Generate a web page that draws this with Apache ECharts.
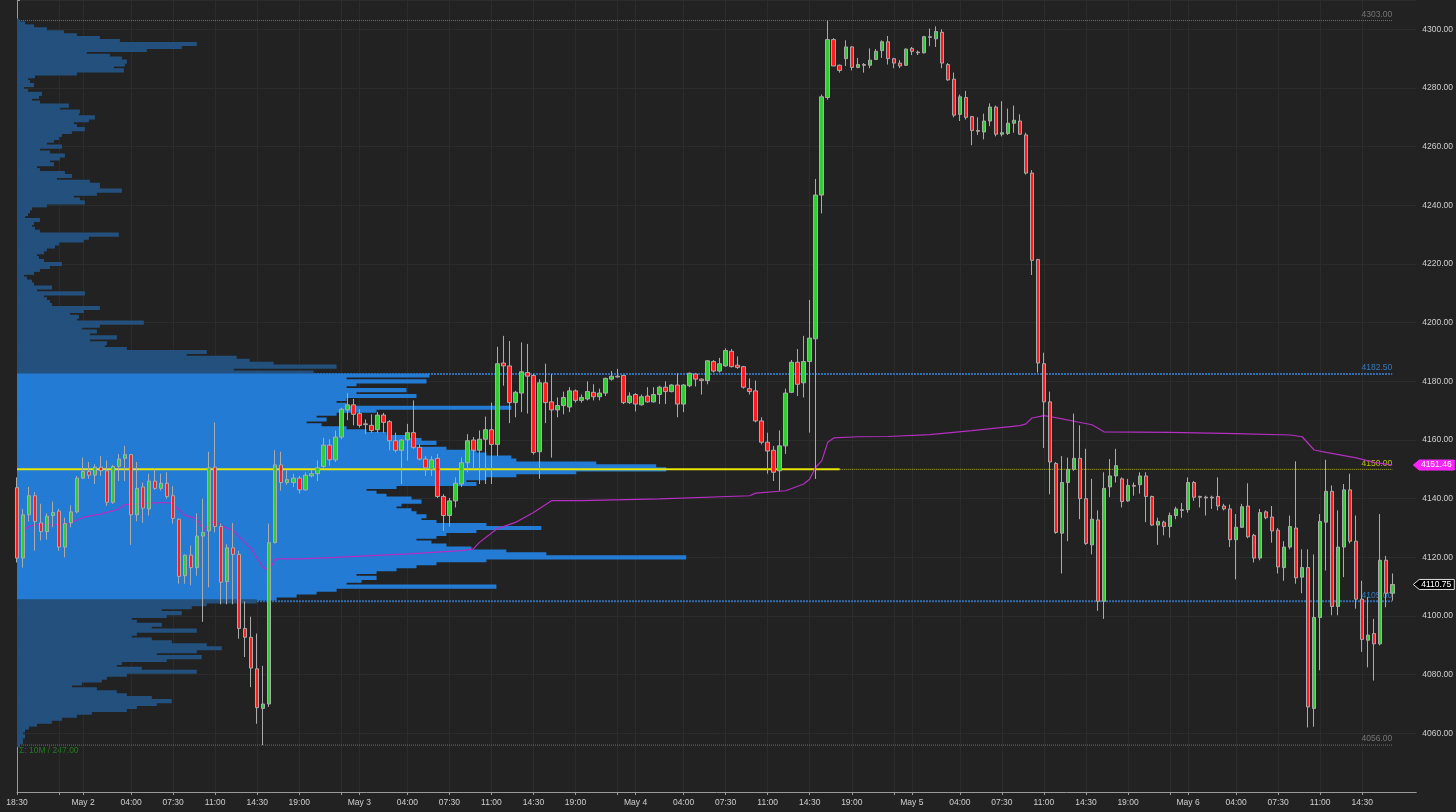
<!DOCTYPE html>
<html><head><meta charset="utf-8">
<script src="https://cdn.jsdelivr.net/npm/echarts@6/dist/echarts.min.js"></script>
<style>html,body{margin:0;padding:0;background:#222222;}#c{width:1456px;height:812px;}</style>
</head><body><div id="c"></div>
<script>
// 30-minute candles: [open, close, low, high]
const candles = [
[4143.75,4119.75,4118.25,4147.25],[4119.75,4134.5,4116.5,4136.5],[4134.5,4141.0,4132.25,4144.0],[4141.0,4132.25,4122.25,4142.25],[4131.75,4128.75,4125.75,4138.25],
[4128.75,4134.0,4126.0,4135.0],[4134.25,4135.25,4130.25,4139.0],[4135.75,4123.5,4122.25,4136.5],[4123.5,4131.5,4120.0,4133.5],[4131.75,4135.5,4130.25,4137.75],
[4135.5,4147.0,4135.0,4147.75],[4147.0,4149.25,4146.75,4154.0],[4149.25,4148.0,4146.75,4152.5],[4148.0,4150.75,4145.0,4151.75],[4150.75,4149.5,4147.75,4154.5],
[4149.5,4138.75,4137.5,4153.0],[4138.75,4151.0,4138.25,4151.5],[4151.0,4153.5,4146.0,4155.25],[4153.75,4155.0,4146.0,4158.0],[4155.0,4134.5,4124.25,4155.25],
[4134.5,4143.5,4132.25,4152.5],[4144.0,4136.75,4131.75,4145.5],[4136.5,4146.0,4134.25,4148.5],[4146.0,4143.5,4143.0,4150.0],[4143.5,4145.25,4142.75,4148.5],
[4145.25,4140.75,4140.0,4149.0],[4141.0,4133.25,4131.5,4144.25],[4133.0,4113.5,4111.0,4133.25],[4113.75,4120.75,4111.0,4121.0],[4120.75,4116.5,4110.5,4124.0],
[4116.5,4127.25,4113.75,4135.0],[4127.25,4128.5,4098.0,4140.0],[4129.0,4150.5,4109.75,4156.0],[4150.75,4130.5,4128.5,4166.0],[4130.5,4111.5,4104.0,4131.5],
[4111.75,4123.25,4104.0,4124.5],[4123.25,4121.0,4104.0,4131.75],[4121.0,4095.75,4092.25,4122.25],[4095.75,4092.75,4086.0,4105.0],[4092.75,4082.25,4075.75,4099.75],
[4082.0,4068.75,4063.25,4094.0],[4068.5,4070.0,4056.0,4083.0],[4070.0,4125.0,4069.0,4131.5],[4125.0,4151.5,4124.75,4156.5],[4151.5,4145.5,4142.75,4156.0],
[4145.5,4146.5,4144.75,4149.75],[4145.5,4147.0,4144.0,4148.5],[4147.0,4143.0,4141.75,4147.75],[4143.0,4148.0,4142.75,4149.0],[4147.75,4148.5,4147.25,4149.75],
[4148.5,4150.5,4146.0,4153.0],[4151.0,4158.25,4150.5,4160.75],[4158.25,4153.25,4151.25,4160.25],[4153.25,4161.0,4152.5,4163.25],[4161.0,4170.5,4160.25,4171.0],
[4170.25,4172.0,4166.75,4176.0],[4172.0,4168.75,4165.0,4174.0],[4169.0,4165.0,4164.25,4170.5],[4165.5,4165.25,4162.0,4167.0],[4165.0,4163.25,4162.5,4168.75],
[4163.5,4168.5,4162.5,4169.5],[4168.5,4166.0,4162.5,4169.25],[4166.25,4159.75,4156.5,4166.75],[4159.75,4156.5,4155.75,4162.5],[4156.5,4160.0,4145.0,4160.25],
[4160.0,4162.5,4153.0,4165.5],[4162.5,4157.5,4157.0,4173.5],[4157.5,4153.5,4153.0,4158.5],[4153.5,4150.5,4147.75,4154.5],[4150.0,4153.25,4147.75,4154.5],
[4153.75,4140.75,4140.25,4155.25],[4140.75,4134.25,4129.0,4141.5],[4134.25,4139.25,4130.5,4140.25],[4139.25,4145.25,4137.0,4147.25],[4145.0,4152.25,4144.0,4154.0],
[4152.25,4159.75,4149.0,4162.0],[4160.0,4156.5,4150.0,4161.0],[4156.5,4160.25,4145.0,4163.25],[4160.25,4163.5,4145.0,4168.0],[4163.5,4158.5,4145.0,4172.75],
[4158.5,4186.0,4154.5,4191.75],[4186.25,4185.25,4178.5,4195.5],[4185.25,4172.75,4165.75,4193.75],[4172.75,4176.25,4167.75,4176.75],[4176.0,4183.25,4169.5,4193.25],
[4183.0,4181.75,4169.0,4192.75],[4182.0,4155.75,4155.0,4182.5],[4156.0,4179.5,4146.75,4180.75],[4179.5,4172.75,4165.75,4186.0],[4173.0,4170.25,4154.0,4182.5],
[4170.25,4171.75,4167.75,4174.5],[4171.75,4174.5,4168.75,4176.5],[4171.25,4176.75,4169.5,4178.0],[4176.75,4173.5,4172.75,4177.25],[4173.5,4174.5,4172.75,4175.5],
[4174.0,4176.5,4173.5,4180.0],[4176.25,4174.75,4173.5,4179.0],[4174.75,4176.0,4173.5,4177.5],[4176.0,4181.0,4175.0,4181.25],[4180.75,4181.75,4180.25,4183.5],
[4181.75,4181.5,4181.25,4184.25],[4182.0,4172.75,4172.25,4182.0],[4172.75,4175.0,4172.25,4176.25],[4175.5,4172.25,4169.75,4176.0],[4172.0,4174.75,4171.75,4175.5],
[4175.0,4173.0,4172.75,4178.0],[4173.0,4175.5,4172.75,4178.0],[4175.5,4178.0,4172.25,4178.5],[4178.0,4176.5,4172.25,4180.0],[4176.5,4178.75,4176.25,4179.0],
[4178.75,4172.25,4167.75,4182.75],[4172.25,4178.75,4169.5,4179.0],[4178.5,4182.75,4178.0,4183.0],[4182.5,4180.75,4178.25,4182.75],[4180.75,4180.25,4175.5,4181.0],
[4180.25,4187.0,4179.0,4187.25],[4186.75,4183.5,4183.0,4187.25],[4183.5,4186.0,4183.0,4188.0],[4185.25,4190.5,4185.0,4191.25],[4190.25,4185.0,4184.75,4191.0],
[4185.5,4184.75,4184.25,4188.5],[4185.0,4178.0,4177.5,4185.25],[4177.5,4176.5,4175.5,4181.0],[4176.75,4166.5,4166.0,4180.25],[4166.5,4159.25,4158.5,4167.75],
[4159.25,4156.25,4148.5,4162.5],[4156.5,4149.0,4146.0,4158.0],[4149.5,4158.0,4142.75,4163.25],[4158.0,4176.0,4155.25,4177.5],[4176.25,4186.5,4176.0,4187.25],
[4186.5,4179.0,4175.0,4191.0],[4179.5,4186.75,4174.5,4195.5],[4186.75,4194.75,4162.5,4207.75],[4194.5,4243.5,4146.75,4249.0],[4243.5,4277.0,4237.25,4277.75],
[4276.75,4296.5,4276.0,4303.0],[4296.5,4287.5,4287.5,4297.0],[4287.75,4286.0,4285.25,4288.0],[4290.0,4294.0,4287.5,4296.25],[4294.0,4287.0,4286.0,4294.25],
[4287.0,4288.0,4286.75,4290.25],[4288.0,4287.75,4285.25,4288.5],[4287.75,4289.5,4286.75,4293.5],[4289.75,4292.5,4289.5,4293.25],[4292.75,4295.75,4290.25,4296.25],
[4295.75,4290.0,4288.0,4297.75],[4290.0,4288.5,4286.75,4290.25],[4288.5,4287.5,4286.75,4289.5],[4287.75,4293.25,4287.5,4293.5],[4293.5,4292.5,4291.25,4294.0],
[4292.25,4292.0,4291.25,4292.75],[4292.0,4297.5,4291.75,4297.75],[4297.5,4297.25,4294.25,4300.25],[4296.75,4299.25,4294.0,4301.0],[4299.0,4288.5,4286.75,4300.0],
[4288.0,4282.75,4282.5,4288.5],[4283.0,4270.75,4270.0,4285.25],[4271.0,4277.0,4268.75,4277.75],[4276.75,4270.0,4269.25,4279.0],[4270.25,4265.5,4260.5,4270.5],
[4265.5,4265.25,4264.0,4270.0],[4265.0,4268.75,4262.5,4271.25],[4268.75,4273.5,4267.0,4274.75],[4273.5,4264.25,4263.5,4274.0],[4264.25,4264.75,4263.5,4275.5],
[4264.5,4268.0,4264.0,4273.0],[4268.0,4269.0,4264.75,4274.0],[4268.75,4264.25,4264.0,4271.0],[4264.0,4251.0,4250.5,4264.75],[4251.0,4221.25,4216.25,4252.0],
[4221.5,4186.25,4183.0,4221.75],[4186.0,4173.0,4157.25,4189.75],[4173.0,4152.5,4141.5,4176.5],[4152.0,4128.5,4128.0,4152.5],[4128.25,4145.5,4114.5,4154.5],
[4145.5,4150.0,4125.5,4154.0],[4150.0,4153.75,4149.5,4169.0],[4153.75,4140.0,4133.0,4165.0],[4140.0,4124.75,4124.25,4157.0],[4124.25,4133.0,4121.0,4146.75],
[4132.75,4105.0,4101.75,4136.0],[4105.0,4143.5,4099.0,4149.0],[4144.0,4147.75,4140.5,4153.5],[4147.75,4151.25,4145.5,4157.0],[4146.75,4139.0,4137.0,4147.25],
[4139.25,4144.5,4139.0,4146.75],[4144.5,4144.25,4141.0,4145.5],[4144.75,4147.75,4141.75,4149.0],[4147.75,4140.75,4132.0,4149.0],[4140.75,4131.0,4130.75,4141.0],
[4131.0,4132.25,4124.25,4133.5],[4132.0,4130.5,4127.5,4132.5],[4130.5,4134.25,4126.75,4135.25],[4134.25,4136.5,4133.0,4137.25],[4136.0,4136.25,4133.5,4138.5],
[4136.25,4145.5,4135.25,4147.25],[4145.5,4140.5,4139.25,4146.0],[4140.75,4140.5,4137.0,4141.0],[4140.5,4140.25,4134.25,4141.0],[4140.5,4140.25,4136.5,4141.0],
[4140.75,4137.5,4136.0,4147.25],[4137.5,4136.5,4136.0,4138.25],[4136.5,4126.0,4123.5,4138.0],[4126.0,4130.25,4112.5,4134.75],[4130.25,4137.25,4130.0,4138.25],
[4137.5,4127.0,4126.5,4145.25],[4127.5,4119.75,4118.25,4128.0],[4119.75,4135.25,4119.0,4136.5],[4135.5,4133.5,4133.0,4136.0],[4133.75,4129.0,4125.0,4137.5],
[4129.25,4116.75,4114.5,4130.0],[4116.5,4123.5,4112.0,4125.5],[4123.5,4130.5,4122.75,4134.25],[4130.0,4113.0,4111.0,4152.75],[4113.25,4116.5,4107.75,4122.75],
[4116.5,4069.0,4062.0,4122.75],[4068.5,4099.5,4062.25,4121.0],[4099.5,4132.25,4081.5,4134.75],[4132.0,4142.5,4115.5,4153.25],[4142.5,4103.25,4100.25,4144.5],
[4103.25,4123.5,4100.25,4136.0],[4123.5,4143.0,4113.25,4145.0],[4143.0,4125.5,4124.75,4148.5],[4125.5,4105.75,4102.5,4134.25],[4105.75,4092.0,4087.75,4112.0],
[4091.75,4093.5,4082.5,4106.5],[4094.0,4090.5,4078.0,4099.0],[4090.5,4119.0,4090.0,4134.75],[4119.0,4107.75,4103.0,4120.5],[4107.75,4110.75,4105.25,4114.5]
];

// VWAP readings: [candle index, price]
const vwapPoints = [
[1,4128.9],[2,4130.6],[3,4131.1],[8,4131.1],[9,4131.9],[11,4133.6],[14,4134.8],[17,4136.5],[18,4138.0],[22,4138.5],
[25,4138.7],[26,4138.2],[28,4134.2],[30,4133.1],[31,4129.1],[32,4131.4],[33,4132.5],[34,4130.8],[36,4129.1],[39,4122.9],
[41,4116.6],[42,4115.5],[43,4119.5],[47,4119.5],[53,4120.0],[65,4121.2],[74,4122.3],[76,4122.9],[77,4125.1],[80,4129.8],
[83,4131.9],[86,4135.3],[89,4139.3],[94,4139.3],[107,4139.9],[122,4141.0],[123,4141.9],[128,4142.7],[131,4145.0],[132,4146.7],
[133,4150.7],[134,4152.9],[135,4159.2],[136,4160.7],[140,4161.1],[145,4161.2],[152,4161.8],[159,4163.2],[167,4164.9],[168,4165.5],
[169,4167.5],[171,4168.3],[172,4168.0],[174,4167.2],[176,4166.4],[179,4165.2],[181,4162.8],[192,4162.6],[203,4162.2],[212,4161.7],
[214,4161.1],[216,4156.6],[218,4155.8],[223,4153.9],[226,4152.4],[229,4151.46]
];

// Volume profile: one value per 1-point price level, from profileTop downwards (hundreds of contracts)
const profileTop = 4303;
const profileVolumes = [
2,8,17,30,47,60,83,103,180,165, 130,70,93,105,110,108,97,107,60,18,
11,13,17,7,11,25,22,15,23,52, 43,63,62,78,72,57,60,68,55,45,
42,37,30,45,23,33,48,43,33,37, 20,23,48,55,40,73,83,83,105,80,
57,63,68,30,15,13,11,8,23,17, 15,18,23,102,72,67,42,38,30,27,
20,22,27,45,33,23,17,7,10,15, 17,35,20,68,27,30,33,35,83,67,
53,62,60,127,83,65,80,73,100,73, 90,88,110,190,170,220,233,257,320,217,
297,
413,330,410,340,330,390,340,400,330,320, 330,495,360,320,300,310,290,305,330,350,
370,390,405,420,400,430,460,470,495,500, 580,640,650,560,500,470,450,460,380,350,
360,370,395,405,385,380,395,400,410,405, 420,470,525,460,430,420,400,415,430,455,
490,530,670,470,420,400,380,360,340,360, 345,330,480,320,300,280,260,240,
190,175,145,165,150,115,120,145,135,180, 120,115,135,155,190,205,180,140,185,150,
105,100,125,180,110,90,85,65,55,80, 100,110,135,155,140,120,110,75,60,45,
35,20,12,8,6,8,6,6,3
];

const vaHigh = 4182.5, vaLow = 4105, pocPrice = 4150;
const rangeHigh = 4303, rangeLow = 4056;
const lastPrice = 4110.75, vwapLast = 4151.46;
const totalText = 'Σ: 10M / 247.00';

// x ticks: candle index and label ('' = tick without label)
const xTickIndex = [0,7,11,19,26,33,40,47,54,57,65,72,79,86,93,100,103,111,118,125,132,139,146,149,157,164,171,178,185,192,195,203,210,217,224];
const xTickLabel = ['18:30','','May 2','04:00','07:30','11:00','14:30','19:00','','May 3','04:00','07:30','11:00','14:30','19:00','','May 4','04:00','07:30','11:00','14:30','19:00','','May 5','04:00','07:30','11:00','14:30','19:00','','May 6','04:00','07:30','11:00','14:30'];
const slotCount = 234; // candle slots incl. empty right margin
const yMin = 4040, yMax = 4310, yStep = 20;
const lastIdx = candles.length - 1;
const pocSolidEnd = 137;

const categories = Array.from({length: slotCount}, (_, i) => String(i));
const tickSet = new Set(xTickIndex);
const tickLabelMap = {};
xTickIndex.forEach((ix, k) => tickLabelMap[ix] = xTickLabel[k]);

const FONT = 'Liberation Sans, Arial, sans-serif';

function levelLine(v, color, width, type, from, to, z) {
  return {type: 'line', data: [[from, v], [to, v]], symbol: 'none', silent: true, z: z,
    lineStyle: {color: color, width: width, type: type}, animation: false};
}
function levelLabel(v, color, z) {
  return {type: 'scatter', data: [[lastIdx, v]], symbolSize: 1, z: z, silent: true,
    itemStyle: {color: 'rgba(0,0,0,0)'},
    label: {show: true, position: 'top', align: 'right', distance: 1, formatter: v.toFixed(2),
      color: color, fontSize: 8.5, fontFamily: FONT}, animation: false};
}

const chart = echarts.init(document.getElementById('c'), null, {renderer: 'canvas'});
chart.setOption({
  backgroundColor: '#222222',
  animation: false,
  grid: {left: 17, right: 38, top: -1, bottom: 20, show: false},
  xAxis: [{
    type: 'category', data: categories, boundaryGap: false,
    axisLine: {show: true, lineStyle: {color: '#9a9a9a', width: 1}},
    axisTick: {show: true, interval: (i) => tickSet.has(i), length: 3, lineStyle: {color: '#9a9a9a'}},
    axisLabel: {show: true, interval: (i) => tickSet.has(i), formatter: (v, i) => tickLabelMap[i] || '',
      color: '#cfcfcf', fontSize: 8.5, fontFamily: FONT, margin: 6},
    splitLine: {show: true, interval: (i) => tickSet.has(i), lineStyle: {color: '#2c2c2c', width: 1}}
  }, {
    type: 'value', show: false, min: 0, max: 1401
  }],
  yAxis: {
    type: 'value', position: 'right', min: yMin, max: yMax, interval: yStep, scale: true,
    axisLine: {show: true, lineStyle: {color: '#9a9a9a'}},
    axisTick: {show: true, length: 3, lineStyle: {color: '#9a9a9a'}},
    axisLabel: {color: '#cfcfcf', fontSize: 8.5, fontFamily: FONT, margin: 6,
      formatter: (v) => (v % 20 === 0 && v > yMin) ? v.toFixed(2) : ''},
    splitLine: {show: true, lineStyle: {color: '#2c2c2c', width: 1}}
  },
  graphic: [{
    type: 'text', left: 19, top: 746, silent: true,
    style: {text: totalText, fill: '#1f7a1f', font: '8.5px ' + FONT}
  }],
  series: [
    levelLine(rangeHigh, '#6e6e6e', 1, 'dotted', 0, lastIdx, 1),
    levelLine(rangeLow, '#6e6e6e', 1, 'dotted', 0, lastIdx, 1),
    levelLine(vaHigh, '#2f6db0', 2, [2, 1], 0, lastIdx, 1),
    levelLine(vaLow, '#2f6db0', 2, [2, 1], 0, lastIdx, 1),
    {
      type: 'custom', xAxisIndex: 1, yAxisIndex: 0, z: 2, silent: true,
      data: profileVolumes.map((v, k) => [v, profileTop - k]),
      encode: {x: 0, y: 1},
      renderItem: function (params, api) {
        const vol = api.value(0), p = api.value(1);
        const a = api.coord([0, p + 0.5]);
        const b = api.coord([vol, p - 0.5]);
        const inVA = p > vaLow && p <= vaHigh;
        const fill = inVA ? '#237bd4' : '#23507d';
        // rows slightly overlap so that no seams appear between adjacent price levels
        return {type: 'rect', shape: {x: a[0], y: a[1] - 0.6, width: b[0] - a[0], height: b[1] - a[1] + 1.2},
          style: {fill: fill}};
      }
    },
    levelLine(pocPrice, '#e6e600', 2, 'solid', 0, pocSolidEnd, 3),
    levelLine(pocPrice, '#b8b800', 1, 'dotted', pocSolidEnd, lastIdx, 3),
    levelLabel(rangeHigh, '#8a8a8a', 3),
    levelLabel(rangeLow, '#8a8a8a', 3),
    levelLabel(vaHigh, '#3d8fe0', 3),
    levelLabel(vaLow, '#3d8fe0', 3),
    levelLabel(pocPrice, '#e0e000', 3),
    {
      type: 'line', data: vwapPoints, symbol: 'none', z: 4, silent: true,
      lineStyle: {color: '#b42fc2', width: 1.2}
    },
    {
      type: 'candlestick', data: candles, z: 5, barWidth: 4, clip: false, silent: true,
      itemStyle: {color: '#34cc34', color0: '#ff1c1c', borderColor: '#ababab', borderColor0: '#ababab',
        borderColorDoji: '#cfcfcf', borderWidth: 1}
    },
    {
      type: 'custom', z: 10, clip: false, silent: true,
      data: [[lastIdx, vwapLast, 0], [lastIdx, lastPrice, 1]],
      renderItem: function (params, api) {
        const y = api.coord([api.value(0), api.value(1)])[1];
        const x0 = params.coordSys.x + params.coordSys.width;
        const kind = api.value(2);
        const h = 5;
        const pts = [[x0 - 3, y], [x0 + 3, y - h], [x0 + 38, y - h], [x0 + 38, y + h], [x0 + 3, y + h]];
        return {type: 'group', children: [
          {type: 'polygon', shape: {points: pts},
            style: {fill: kind === 0 ? '#ff24ff' : '#000000', stroke: kind === 0 ? '#ff24ff' : '#e0e0e0', lineWidth: 1}},
          {type: 'text', style: {text: api.value(1).toFixed(2), x: x0 + 20, y: y, align: 'center', verticalAlign: 'middle',
            fill: '#ffffff', font: '8.5px ' + FONT}}
        ]};
      }
    }
  ]
});
</script></body></html>
